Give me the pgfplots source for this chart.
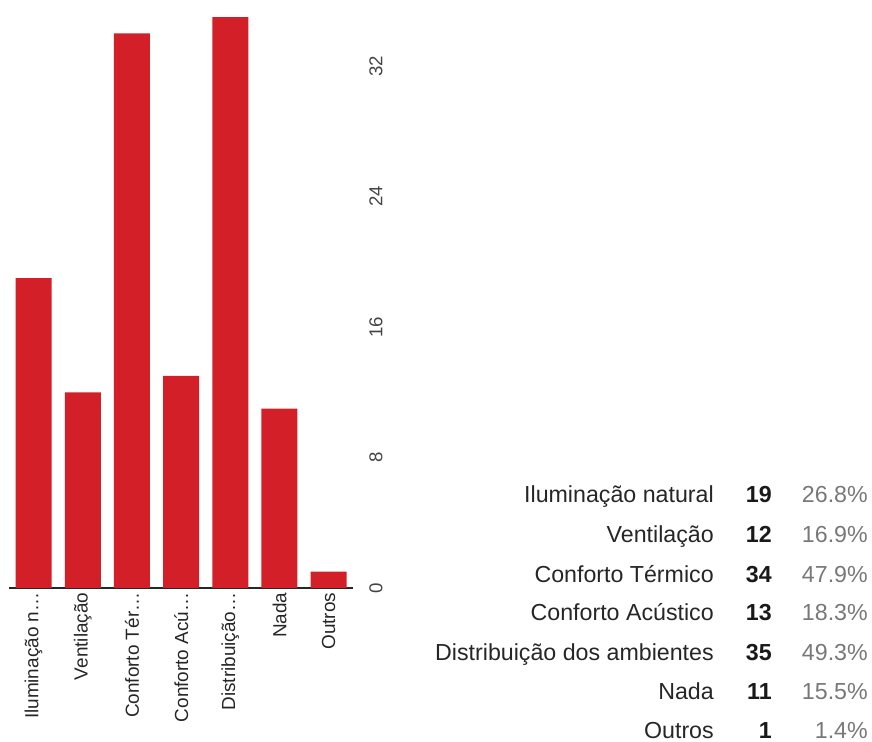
\documentclass[border=0pt]{standalone}
\usepackage{pgfplots}
\pgfplotsset{compat=1.18}
\usepackage{fontspec}
\setmainfont{Liberation Sans}
\definecolor{barred}{RGB}{210,31,40}
\definecolor{tickgray}{RGB}{68,68,68}
\definecolor{pctgray}{RGB}{120,120,120}
\begin{document}
\begin{tikzpicture}
\path[use as bounding box] (0pt,0pt) rectangle (654pt,556.5pt);
\begin{axis}[
  at={(6.75pt,115.5pt)}, anchor=south west,
  scale only axis, width=258.2pt, height=441pt,
  xmin=-0.5, xmax=6.5, ymin=0, ymax=36.05,
  axis x line=bottom, axis y line=right,
  x axis line style={-, line width=1.8pt, color=black!85},
  y axis line style={draw=none},
  xtick=data,
  xticklabels={Iluminação n\ldots, Ventilação, Conforto Tér\ldots, Conforto Acú\ldots, Distribuição\ldots, Nada, Outros},
  ytick={0,8,16,24,32},
  major tick length=0pt,
  tick style={draw=none},
  xticklabel style={rotate=90, anchor=east, font=\fontsize{14.2}{16}\selectfont, text=black!85},
  yticklabel style={xshift=8.5pt, rotate=90, anchor=north, font=\fontsize{14}{16}\selectfont, text=tickgray},
  /pgf/number format/assume math mode=true,
  ybar, bar width=27pt,
]
\addplot[fill=barred, draw=none] coordinates {(0,19) (1,12) (2,34) (3,13) (4,35) (5,11) (6,1)};
\end{axis}
\begin{scope}[every node/.style={font=\fontsize{17.4}{20}\selectfont, inner sep=0pt, anchor=base east}]
\node[text=black!85] at (535.5pt,179.25pt) {Iluminação natural};
\node[text=black!85] at (535.5pt,149.25pt) {Ventilação};
\node[text=black!85] at (535.5pt,119.25pt) {Conforto Térmico};
\node[text=black!85] at (535.5pt,90.75pt) {Conforto Acústico};
\node[text=black!85] at (535.5pt,60.75pt) {Distribuição dos ambientes};
\node[text=black!85] at (535.5pt,31.5pt) {Nada};
\node[text=black!85] at (535.5pt,2.25pt) {Outros};
\node[text=black!90, font=\fontsize{17.4}{20}\selectfont\bfseries] at (579pt,179.25pt) {19};
\node[text=black!90, font=\fontsize{17.4}{20}\selectfont\bfseries] at (579pt,149.25pt) {12};
\node[text=black!90, font=\fontsize{17.4}{20}\selectfont\bfseries] at (579pt,119.25pt) {34};
\node[text=black!90, font=\fontsize{17.4}{20}\selectfont\bfseries] at (579pt,90.75pt) {13};
\node[text=black!90, font=\fontsize{17.4}{20}\selectfont\bfseries] at (579pt,60.75pt) {35};
\node[text=black!90, font=\fontsize{17.4}{20}\selectfont\bfseries] at (579pt,31.5pt) {11};
\node[text=black!90, font=\fontsize{17.4}{20}\selectfont\bfseries] at (579pt,2.25pt) {1};
\node[text=pctgray] at (651pt,179.25pt) {26.8\%};
\node[text=pctgray] at (651pt,149.25pt) {16.9\%};
\node[text=pctgray] at (651pt,119.25pt) {47.9\%};
\node[text=pctgray] at (651pt,90.75pt) {18.3\%};
\node[text=pctgray] at (651pt,60.75pt) {49.3\%};
\node[text=pctgray] at (651pt,31.5pt) {15.5\%};
\node[text=pctgray] at (651pt,2.25pt) {1.4\%};
\end{scope}
\end{tikzpicture}
\end{document}
